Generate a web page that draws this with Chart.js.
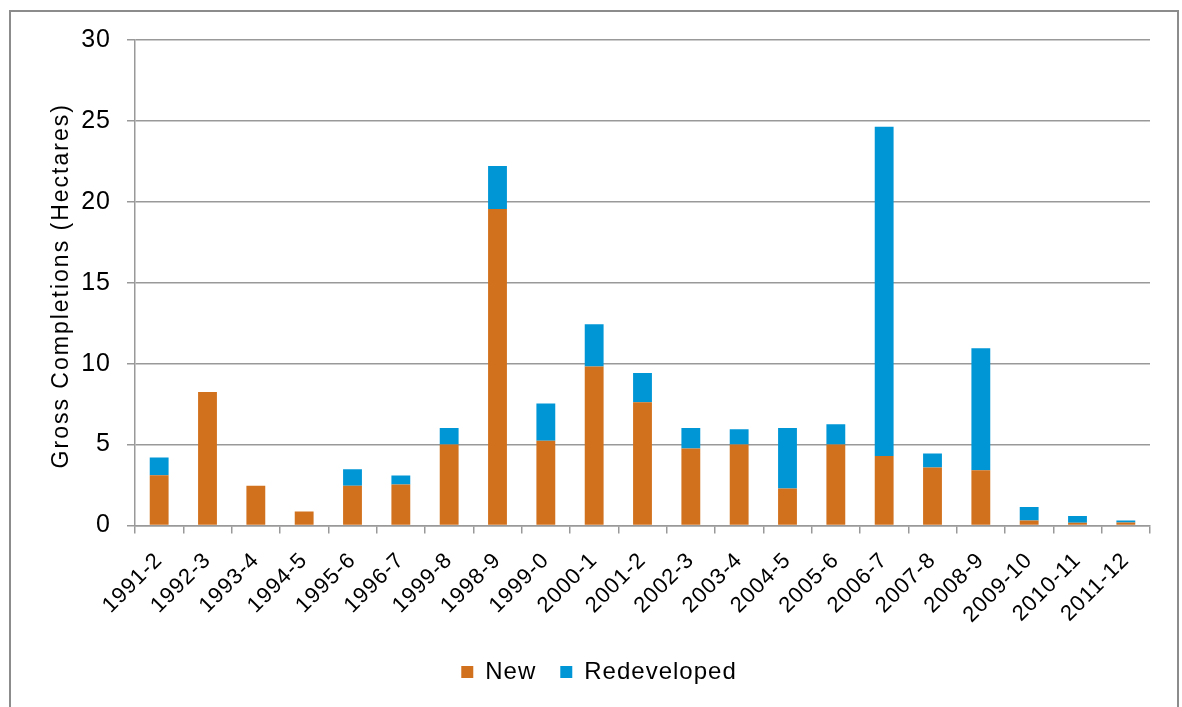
<!DOCTYPE html>
<html>
<head>
<meta charset="utf-8">
<title>Gross Completions</title>
<script src="https://cdn.jsdelivr.net/npm/chart.js@4/dist/chart.umd.min.js"></script>
<style>
  html, body { margin: 0; padding: 0; background: #ffffff; }
  #wrap { position: relative; width: 1182px; height: 707px; }
</style>
</head>
<body>
<div id="wrap"><canvas id="chart"></canvas></div>
<script>
// Financial years along the x axis
const categories = ['1991-2', '1992-3', '1993-4', '1994-5', '1995-6', '1996-7', '1999-8',
  '1998-9', '1999-0', '2000-1', '2001-2', '2002-3', '2003-4', '2004-5', '2005-6',
  '2006-7', '2007-8', '2008-9', '2009-10', '2010-11', '2011-12'];

// Gross completions in hectares, split by land type
const newLand = [3.1, 8.25, 2.45, 0.87, 2.45, 2.53, 5.0, 19.56, 5.23, 9.82, 7.62,
  4.76, 5.0, 2.29, 5.0, 4.29, 3.58, 3.42, 0.31, 0.17, 0.19];
const redeveloped = [1.1, 0, 0, 0, 1.03, 0.56, 1.02, 2.66, 2.31, 2.62, 1.81,
  1.27, 0.95, 3.74, 1.26, 20.35, 0.87, 7.54, 0.83, 0.41, 0.12];

const yTicks = [0, 5, 10, 15, 20, 25, 30];
const yTitle = 'Gross Completions (Hectares)';
const seriesNames = ['New', 'Redeveloped'];

const FONT = "'Liberation Sans', Arial, sans-serif";
const GRID = '#999999';

// Slightly widened lettering for all chart text
const spacingPlugin = {
  id: 'spacing',
  beforeLayout(chart) { chart.ctx.letterSpacing = '1px'; },
  beforeDraw(chart) { chart.ctx.letterSpacing = '1px'; }
};

// Outer frame around the whole chart
const framePlugin = {
  id: 'frame',
  beforeDraw(chart) {
    const ctx = chart.ctx;
    ctx.save();
    ctx.strokeStyle = '#8c8c8c';
    ctx.lineWidth = 2;
    ctx.strokeRect(10, 11, 1168, 740);
    ctx.restore();
  }
};

// Rotated y-axis title, centred on the plot height
const yTitlePlugin = {
  id: 'yTitle',
  afterDraw(chart) {
    const ctx = chart.ctx;
    const area = chart.chartArea;
    ctx.save();
    ctx.letterSpacing = '2px';
    ctx.font = '23px ' + FONT;
    ctx.fillStyle = '#000000';
    ctx.textAlign = 'center';
    ctx.textBaseline = 'middle';
    ctx.translate(62, (area.top + area.bottom) / 2 + 3);
    ctx.rotate(-Math.PI / 2);
    ctx.fillText(yTitle, 0, 0);
    ctx.restore();
  }
};

new Chart(document.getElementById('chart'), {
  type: 'bar',
  data: {
    labels: categories,
    datasets: [
      { label: seriesNames[0], data: newLand, backgroundColor: '#D2711D', borderWidth: 0 },
      { label: seriesNames[1], data: redeveloped, backgroundColor: '#0096D6', borderWidth: 0 }
    ]
  },
  options: {
    responsive: true,
    maintainAspectRatio: false,
    devicePixelRatio: 1,
    animation: false,
    datasets: { bar: { barPercentage: 0.39, categoryPercentage: 1.0 } },
    layout: { padding: { left: 48, right: 32, top: 40, bottom: 13 } },
    plugins: {
      legend: {
        position: 'bottom',
        labels: {
          font: { family: FONT, size: 24 },
          color: '#000000',
          boxWidth: 12,
          boxHeight: 12,
          padding: 24
        }
      },
      tooltip: { enabled: false }
    },
    scales: {
      x: {
        stacked: true,
        offset: true,
        grid: { offset: true, drawOnChartArea: false, drawTicks: true, tickLength: 8, color: GRID, lineWidth: 1.5 },
        border: { display: true, color: GRID, width: 1.5 },
        ticks: {
          font: { family: FONT, size: 22 },
          color: '#000000',
          minRotation: 45,
          maxRotation: 45,
          autoSkip: false,
          padding: 14
        },
        afterFit(scale) { scale.height = 110.5; }
      },
      y: {
        stacked: true,
        min: 0,
        max: 30,
        afterBuildTicks(scale) { scale.ticks = yTicks.map(v => ({ value: v })); },
        grid: { drawTicks: true, tickLength: 8, color: GRID, lineWidth: 1.5 },
        border: { display: true, color: GRID, width: 1.5 },
        ticks: {
          font: { family: FONT, size: 25 },
          color: '#000000',
          padding: 16
        },
        afterFit(scale) { scale.width = 87; }
      }
    }
  },
  plugins: [spacingPlugin, framePlugin, yTitlePlugin]
});
</script>
</body>
</html>
